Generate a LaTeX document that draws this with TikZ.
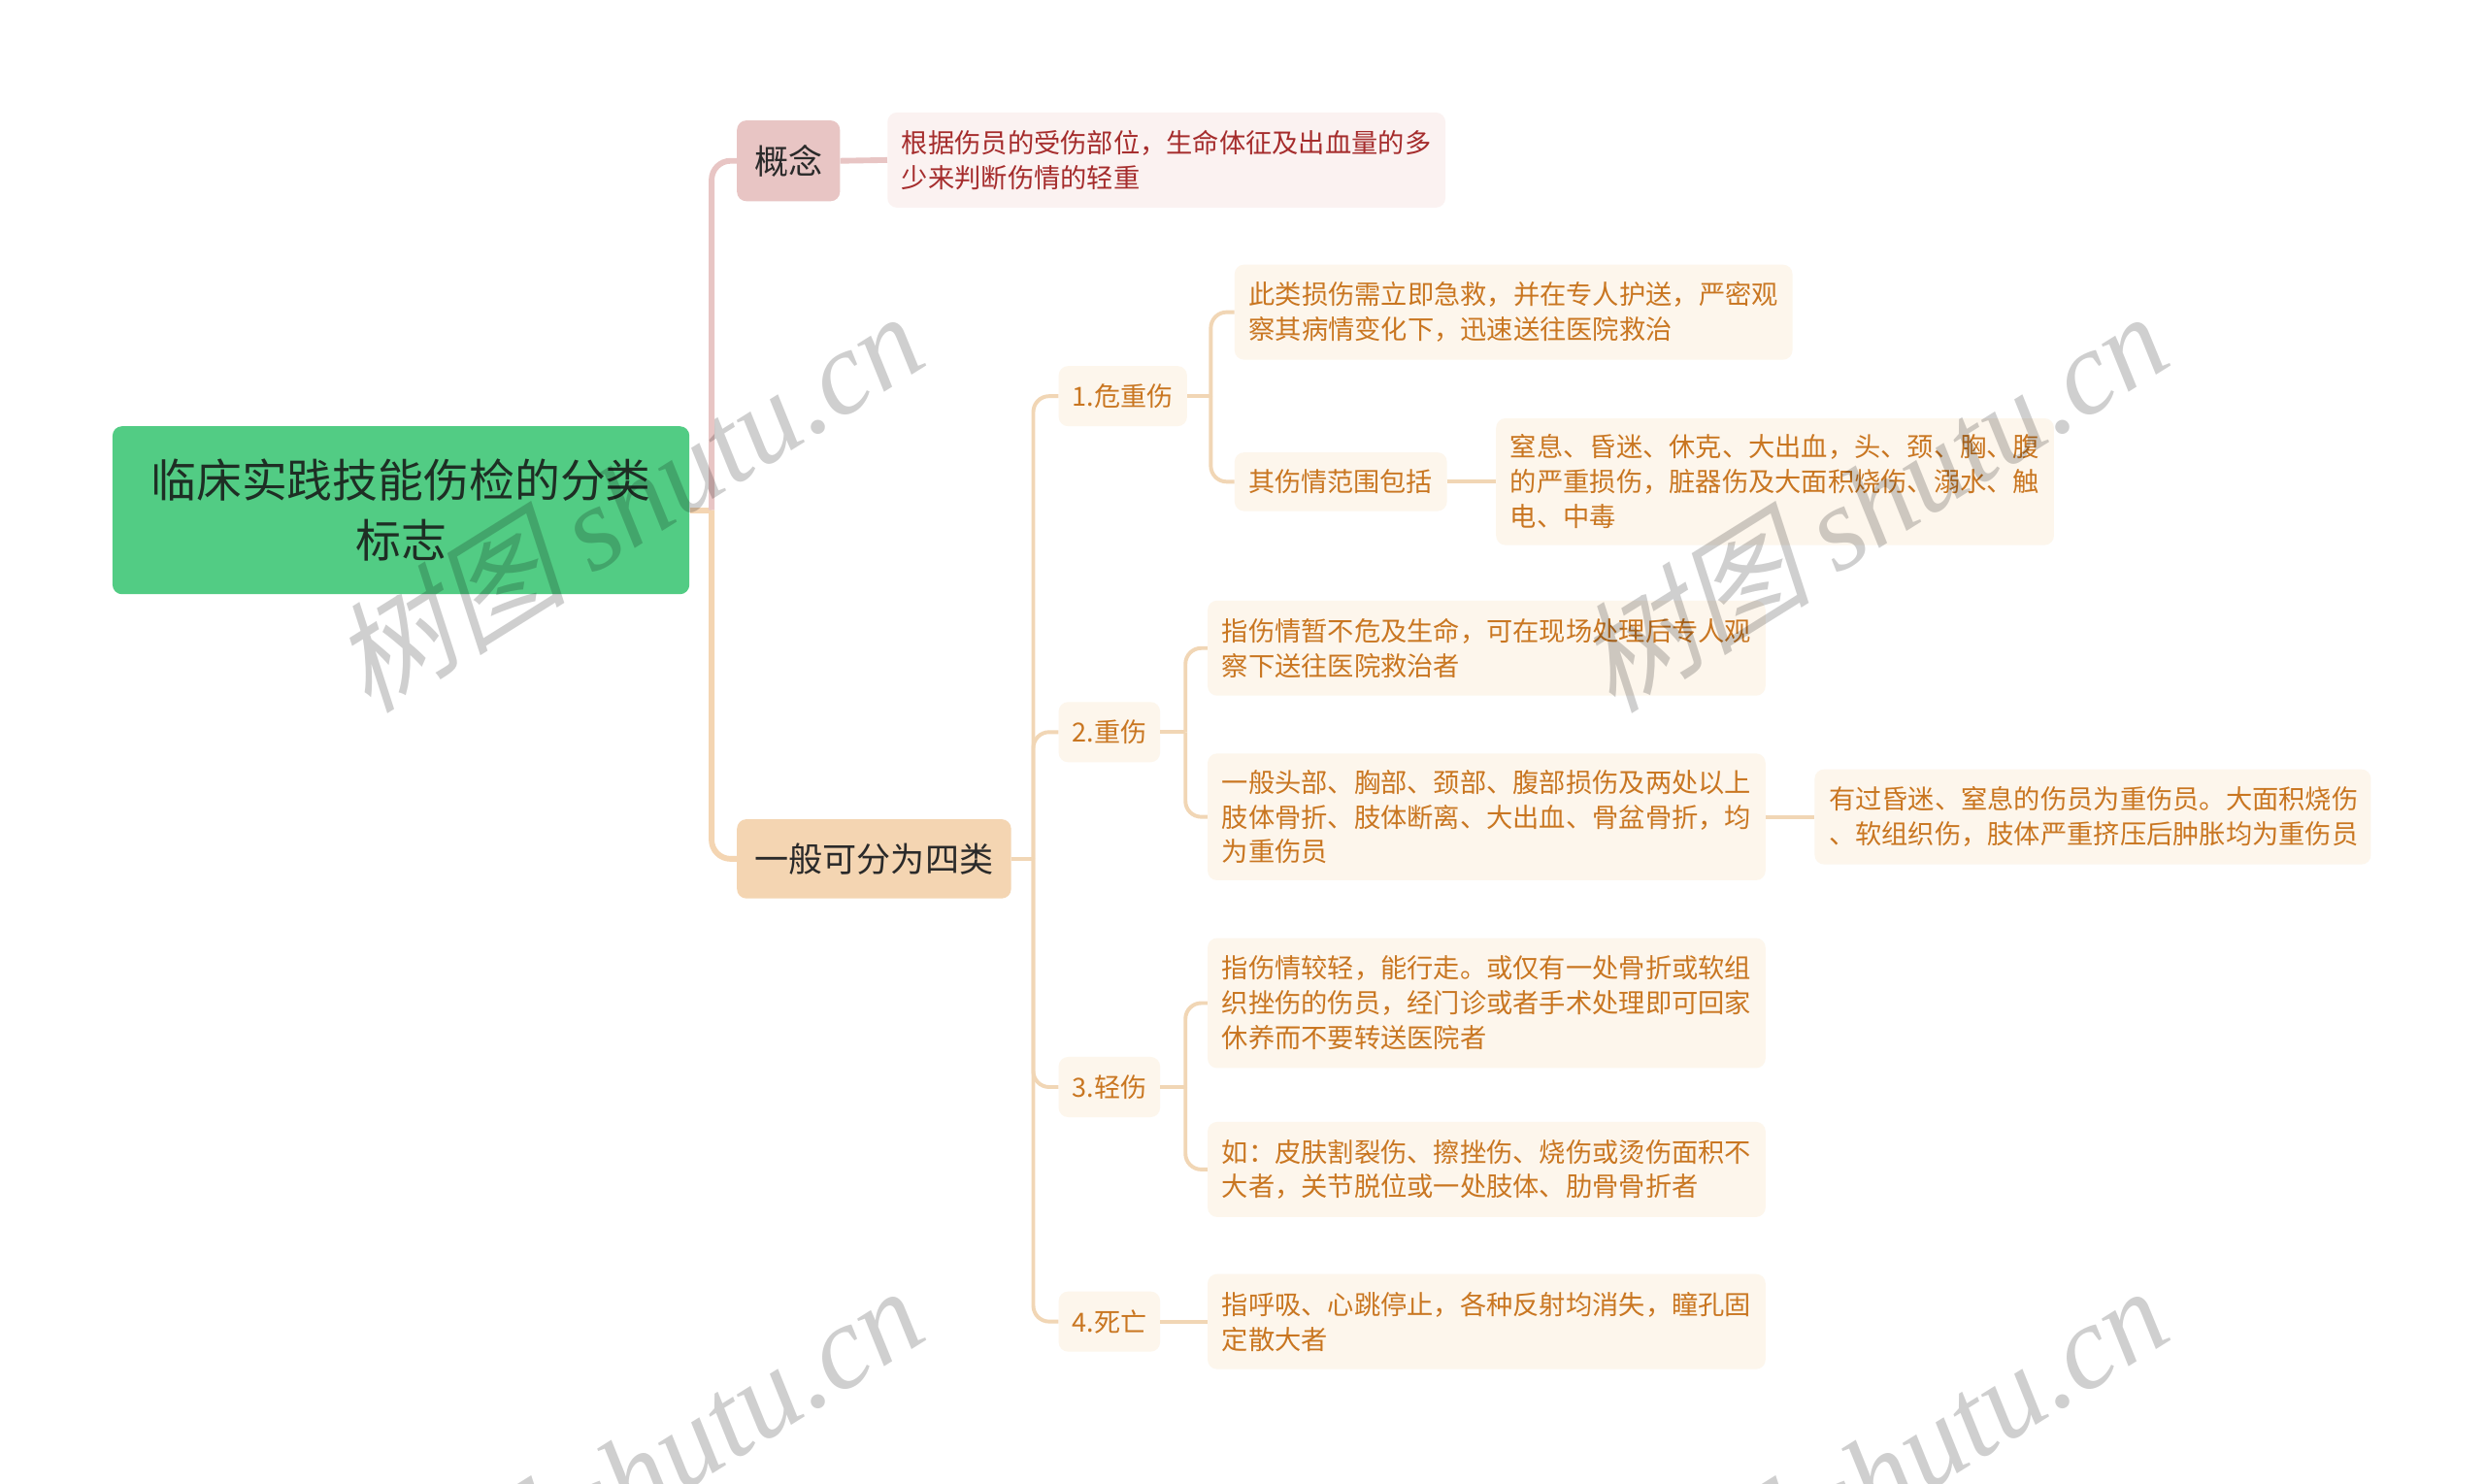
\documentclass[tikz,border=0pt]{standalone}
\usepackage{fontspec}
\setmainfont{Noto Sans CJK SC}
\newfontfamily\wmcjk[FakeSlant=0.25]{Noto Sans CJK SC}
\newfontfamily\wmlat{Liberation Serif}
\definecolor{rootgreen}{HTML}{52CC84}
\definecolor{roottext}{HTML}{1E2E24}
\definecolor{darktext}{HTML}{2A2A2A}
\definecolor{pinkfill}{HTML}{E8C5C4}
\definecolor{pinkleaf}{HTML}{FBF2F1}
\definecolor{pinktext}{HTML}{A52C2C}
\definecolor{peachfill}{HTML}{F4D5B2}
\definecolor{peachline}{HTML}{F1D6B5}
\definecolor{leaffill}{HTML}{FDF6EC}
\definecolor{leaftext}{HTML}{C97621}
\begin{document}
\begin{tikzpicture}[x=1pt,y=-1pt,
  rootbox/.style={fill=rootgreen, rounded corners=6pt, inner sep=0pt, minimum width=364pt, minimum height=106pt, align=center, text=roottext, font=\fontsize{28.7}{38}\selectfont},
  lvone/.style={rounded corners=6pt, inner sep=0pt, minimum height=50pt, text=darktext, font=\fontsize{21.5}{26}\selectfont},
  lvtwo/.style={fill=leaffill, rounded corners=6pt, inner sep=0pt, minimum height=38pt, text=leaftext, font=\fontsize{16.6}{22}\selectfont},
  leafbox/.style={fill=leaffill, rounded corners=6pt, inner xsep=9pt, inner ysep=0pt, align=left, text width=334pt, text=leaftext, font=\fontsize{16.7}{22}\selectfont},
  mainline/.style={line width=3.6pt, rounded corners=12pt},
  conn/.style={draw=peachline, line width=2.4pt, rounded corners=10pt},
  wm/.style={text=black, opacity=0.19, font=\fontsize{75}{75}\selectfont, inner sep=0pt}
]
\useasboundingbox (0,0) rectangle (1568,936);
\fill[white] (0,0) rectangle (1568,936);

% nodes
\node[rootbox] (root) at (253,322) {临床实践技能伤检的分类\\标志};
\node[lvone, fill=pinkfill, minimum width=65pt, minimum height=51pt] (gn) at (497.5,101.5) {概念};
\node[lvone, fill=peachfill, minimum width=173pt] (four) at (551.5,542) {一般可分为四类};
\node[leafbox, fill=pinkleaf, text=pinktext, minimum height=60pt] (gdef) at (736,101) {根据伤员的受伤部位，生命体征及出血量的多\\少来判断伤情的轻重};

\node[lvtwo, minimum width=81pt] (n1) at (708.5,250) {1.危重伤};
\node[lvtwo, minimum width=64pt] (n2) at (700,462) {2.重伤};
\node[lvtwo, minimum width=64pt] (n3) at (700,686) {3.轻伤};
\node[lvtwo, minimum width=64pt] (n4) at (700,834) {4.死亡};

\node[leafbox, minimum height=60pt] (a) at (955,197) {此类损伤需立即急救，并在专人护送，严密观\\察其病情变化下，迅速送往医院救治};
\node[lvtwo, minimum width=134pt, minimum height=37pt] (b) at (846,304) {其伤情范围包括};
\node[leafbox, minimum height=80pt] (c) at (1120,304) {窒息、昏迷、休克、大出血，头、颈、胸、腹\\的严重损伤，脏器伤及大面积烧伤、溺水、触\\电、中毒};
\node[leafbox, minimum height=60pt] (d) at (938,409) {指伤情暂不危及生命，可在现场处理后专人观\\察下送往医院救治者};
\node[leafbox, minimum height=80pt] (e) at (938,515.5) {一般头部、胸部、颈部、腹部损伤及两处以上\\肢体骨折、肢体断离、大出血、骨盆骨折，均\\为重伤员};
\node[leafbox, minimum height=60pt, text width=333pt] (f) at (1320.5,515.5) {有过昏迷、窒息的伤员为重伤员。大面积烧伤\\、软组织伤，肢体严重挤压后肿胀均为重伤员};
\node[leafbox, minimum height=82pt] (g) at (938,633) {指伤情较轻，能行走。或仅有一处骨折或软组\\织挫伤的伤员，经门诊或者手术处理即可回家\\休养而不要转送医院者};
\node[leafbox, minimum height=60pt] (h) at (938,738) {如：皮肤割裂伤、擦挫伤、烧伤或烫伤面积不\\大者，关节脱位或一处肢体、肋骨骨折者};
\node[leafbox, minimum height=60pt] (i) at (938,834) {指呼吸、心跳停止，各种反射均消失，瞳孔固\\定散大者};

% junction coordinates
\coordinate (jr) at (449,322);
\coordinate (jf) at (652,542);
\coordinate (j1) at (764,250);
\coordinate (j2) at (748,462);
\coordinate (j3) at (748,686);

% connectors
\draw[mainline, draw=peachfill] (root.east) -- (jr);
\draw[mainline, draw=pinkfill] (jr) |- (gn.west);
\draw[mainline, draw=peachfill] (jr) |- (four.west);
\draw[mainline, draw=pinkfill, rounded corners=0pt] (gn.east) -- (gdef.west);

\draw[conn] (four.east) -- (jf);
\draw[conn] (jf) |- (n1.west);
\draw[conn] (jf) |- (n2.west);
\draw[conn] (jf) |- (n3.west);
\draw[conn] (jf) |- (n4.west);

\draw[conn] (n1.east) -- (j1);
\draw[conn] (j1) |- (a.west);
\draw[conn] (j1) |- (b.west);
\draw[conn] (b.east) -- (c.west);

\draw[conn] (n2.east) -- (j2);
\draw[conn] (j2) |- (d.west);
\draw[conn] (j2) |- (e.west);
\draw[conn] (e.east) -- (f.west);

\draw[conn] (n3.east) -- (j3);
\draw[conn] (j3) |- (g.west);
\draw[conn] (j3) |- (h.west);

\draw[conn] (n4.east) -- (i.west);

% watermarks
\node[wm, rotate=32] (wm1) at (395,316) {{\wmcjk 树图} {\wmlat\itshape shutu.cn}};
\node[wm, rotate=32] (wm2) at (1180,316) {{\wmcjk 树图} {\wmlat\itshape shutu.cn}};
\node[wm, rotate=32] (wm3) at (395,931) {{\wmcjk 树图} {\wmlat\itshape shutu.cn}};
\node[wm, rotate=32] (wm4) at (1180,931) {{\wmcjk 树图} {\wmlat\itshape shutu.cn}};
\end{tikzpicture}
\end{document}
